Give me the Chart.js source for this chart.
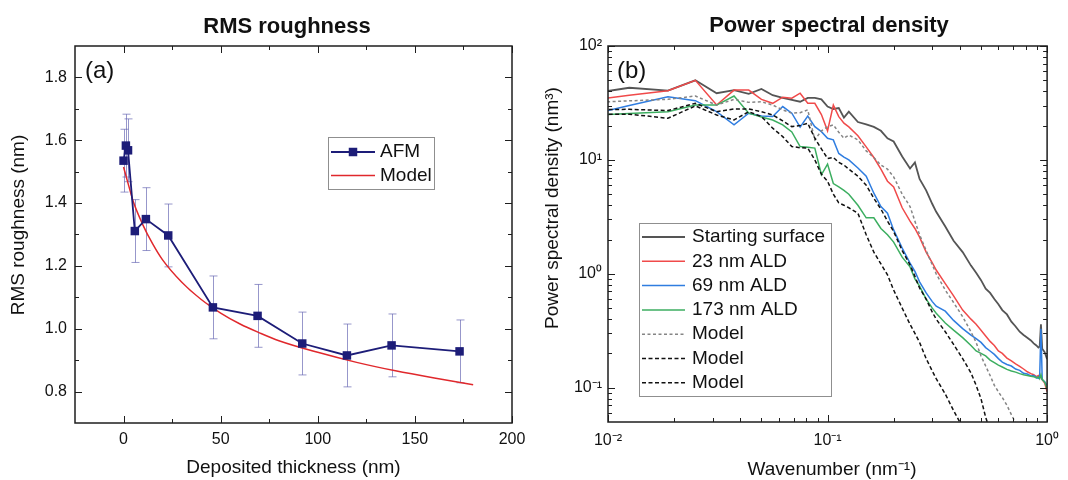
<!DOCTYPE html>
<html>
<head>
<meta charset="utf-8">
<script src="https://cdn.jsdelivr.net/npm/chart.js@4.4.1/dist/chart.umd.min.js"></script>
<style>
  html, body { margin: 0; padding: 0; background: #fff; }
  #wrap { width: 1068px; height: 480px; display: flex; }
  .panel { position: relative; width: 534px; height: 480px; }
</style>
</head>
<body>
<div id="wrap">
  <div class="panel"><canvas id="rmsChart"></canvas></div>
  <div class="panel"><canvas id="psdChart"></canvas></div>
</div>
<script>
// ---- (a) RMS roughness ----
const afmThickness = [0, 1.2, 2.3, 5.8, 11.5, 23, 46, 69, 92, 115, 138, 173];
const afmRms = [1.535, 1.583, 1.568, 1.311, 1.349, 1.297, 1.068, 1.041, 0.953, 0.915, 0.947, 0.928];
const afmErr = [0.1, 0.1, 0.1, 0.1, 0.1, 0.1, 0.1, 0.1, 0.1, 0.1, 0.1, 0.1];
const modelThickness = [0, 2, 5, 10, 15, 20, 30, 40, 50, 60, 70, 80, 100, 120, 140, 160, 180];
const modelRms = [1.515, 1.47, 1.405, 1.33, 1.27, 1.22, 1.148, 1.093, 1.05, 1.015, 0.987, 0.962, 0.925, 0.893, 0.866, 0.843, 0.822];

const rmsXTicks = [0, 50, 100, 150, 200];
const rmsXMinor = [25, 75, 125, 175];
const rmsYTicks = [0.8, 1.0, 1.2, 1.4, 1.6, 1.8];
const rmsYMinor = [0.9, 1.1, 1.3, 1.5, 1.7];

// ---- (b) Power spectral density ----
const wavenumber = [0.00625, 0.0125, 0.01875, 0.025, 0.03125, 0.0375, 0.04375, 0.05, 0.05625, 0.0625,
  0.06875, 0.075, 0.08125, 0.0875, 0.09375, 0.1, 0.10625, 0.1125, 0.11875, 0.125,
  0.1375, 0.15, 0.1625, 0.175, 0.1875, 0.2, 0.21875, 0.2375, 0.25, 0.2625,
  0.28125, 0.3, 0.3125, 0.34375, 0.375, 0.4125, 0.45, 0.475, 0.5, 0.525,
  0.55, 0.575, 0.6, 0.625, 0.65625, 0.6875, 0.71875, 0.75, 0.78125, 0.8125,
  0.84375, 0.86875, 0.89375, 0.9125, 0.925, 0.9375, 0.95, 0.975, 1.0];

const psdStart = [35, 43, 40.6, 50, 38.5, 41, 38, 42, 37, 35,
  33.6, 32.4, 35, 35, 34, 29.4, 28, 28.5, 23.5, 26.5,
  21.5, 20.5, 19.5, 18, 15.5, 14.5, 10.7, 8.4, 9.5, 6.8,
  5.4, 4.1, 3.5, 2.6, 1.95, 1.55, 1.18, 1.02, 0.88, 0.74,
  0.68, 0.6, 0.54, 0.48, 0.44, 0.38, 0.345, 0.31, 0.29, 0.275,
  0.26, 0.245, 0.235, 0.225, 0.23, 0.36, 0.22, 0.205, 0.178];
const psd23 = [31, 37, 40.5, 50, 30.3, 41, 41, 34, 31.4, 35.5,
  34.8, 38.5, 31.4, 31.4, 25, 18, 30.3, 24, 21, 19.5,
  16.3, 13, 10.5, 8.3, 6.5, 5.8, 3.8, 2.9, 2.5, 2.1,
  1.55, 1.25, 1.08, 0.82, 0.64, 0.48, 0.4, 0.36, 0.32, 0.285,
  0.255, 0.235, 0.21, 0.2, 0.182, 0.172, 0.162, 0.154, 0.146, 0.138,
  0.133, 0.13, 0.125, 0.128, 0.122, 0.125, 0.118, 0.11, 0.092];
const psd69 = [22, 30, 35.9, 33.1, 26.5, 20.3, 25.7, 24.3, 24, 29.4,
  25.7, 19.4, 24.3, 19.6, 17.7, 15.5, 15, 11.4, 10.6, 10,
  8.5, 7.2, 5.1, 3.9, 3.4, 2.43, 1.68, 1.24, 1.05, 0.85,
  0.68, 0.57, 0.52, 0.47, 0.39, 0.33, 0.29, 0.27, 0.25, 0.225,
  0.21, 0.196, 0.18, 0.168, 0.16, 0.155, 0.146, 0.142, 0.134, 0.132,
  0.127, 0.128, 0.123, 0.121, 0.124, 0.33, 0.118, 0.113, 0.105];
const psd173 = [24.2, 25.5, 26.5, 30.3, 30.3, 36.4, 25.7, 23.8, 22.4, 20.3,
  17.6, 13.1, 12.9, 12.7, 7.4, 9.2, 6.2, 5.8, 5.4, 5.0,
  4.0, 3.1, 3.1, 2.5, 2.2, 1.9, 1.4, 1.15, 0.9, 0.78,
  0.6, 0.5, 0.45, 0.37, 0.32, 0.275, 0.235, 0.21, 0.2, 0.19,
  0.175, 0.166, 0.158, 0.152, 0.145, 0.14, 0.137, 0.133, 0.13, 0.128,
  0.126, 0.125, 0.122, 0.125, 0.12, 0.13, 0.118, 0.112, 0.098];
const model23 = [31, 33, 34, 36.4, 30.3, 34, 32, 32.4, 30.3, 27.5,
  25.7, 26, 27.5, 15, 18, 19.5, 20.3, 17.5, 15.5, 16.5,
  15, 12, 10.5, 9.0, 8.3, 7.1, 5.0, 3.9, 2.9, 2.2,
  1.6, 1.2, 1.0, 0.72, 0.56, 0.42, 0.31, 0.25, 0.19, 0.155,
  0.128, 0.105, 0.092, 0.082, 0.07, 0.058, 0.049, 0.042, null, null,
  null, null, null, null, null, null, null, null, null];
const model69 = [27.5, 27.8, 27.1, 31.4, 26.5, 28, 28, 26.5, 24.8, 22,
  19.6, 20, 21, 15.5, 12.5, 10.3, 10.5, 9.5, 9, 8.3,
  7.2, 6.0, 4.6, 3.7, 2.9, 2.35, 1.6, 1.2, 0.95, 0.75,
  0.6, 0.46, 0.4, 0.31, 0.24, 0.18, 0.135, 0.105, 0.08, 0.055,
  0.042, null, null, null, null, null, null, null, null, null,
  null, null, null, null, null, null, null, null, null];
const model173 = [25, 25.2, 23.2, 29.8, 24.8, 22.4, 26.5, 24, 19, 16,
  13.1, 12.8, 12.7, 10, 7.5, 6.5, 5, 4.2, 4.0, 3.8,
  3.4, 2.2, 1.55, 1.22, 0.98, 0.72, 0.5, 0.36, 0.3, 0.25,
  0.18, 0.14, 0.12, 0.088, 0.063, 0.045, null, null, null, null,
  null, null, null, null, null, null, null, null, null, null,
  null, null, null, null, null, null, null, null, null];

const psdXTicks = [0.01, 0.1, 1];
const psdXTickLabels = ['10⁻²', '10⁻¹', '10⁰'];
const psdXMinor = [0.02, 0.03, 0.04, 0.05, 0.06, 0.07, 0.08, 0.09, 0.2, 0.3, 0.4, 0.5, 0.6, 0.7, 0.8, 0.9];
const psdYTicks = [0.1, 1, 10, 100];
const psdYTickLabels = ['10⁻¹', '10⁰', '10¹', '10²'];
const psdYMinor = [0.06, 0.07, 0.08, 0.09, 0.2, 0.3, 0.4, 0.5, 0.6, 0.7, 0.8, 0.9,
  2, 3, 4, 5, 6, 7, 8, 9, 20, 30, 40, 50, 60, 70, 80, 90];

const FONT = "'Liberation Sans', Arial, Helvetica, sans-serif";
Chart.defaults.font.family = FONT;
Chart.defaults.color = '#111';

const pairs = (xs, ys) => xs.map((x, i) => ({ x: x, y: ys[i] }));

// frame, inward ticks, error bars, texts and boxed legend
const axesFrame = {
  id: 'axesFrame',
  beforeDatasetsDraw(chart, args, o) {
    if (!o.errors) return;
    const { ctx } = chart;
    const xs = chart.scales.x, ys = chart.scales.y;
    const e = o.errors;
    ctx.save();
    ctx.strokeStyle = e.color;
    ctx.lineWidth = 1;
    e.x.forEach((xv, i) => {
      const px = Math.round(xs.getPixelForValue(xv)) + 0.5;
      const top = ys.getPixelForValue(e.y[i] + e.err[i]);
      const bot = ys.getPixelForValue(e.y[i] - e.err[i]);
      ctx.beginPath();
      ctx.moveTo(px, top); ctx.lineTo(px, bot);
      ctx.moveTo(px - 4, top); ctx.lineTo(px + 4, top);
      ctx.moveTo(px - 4, bot); ctx.lineTo(px + 4, bot);
      ctx.stroke();
    });
    ctx.restore();
  },
  afterDraw(chart, args, o) {
    const { ctx, chartArea: a } = chart;
    const xs = chart.scales.x, ys = chart.scales.y;
    ctx.save();
    ctx.strokeStyle = '#1e1e1e';
    ctx.lineWidth = 1;
    const xMarks = (vals, len) => vals.forEach(v => {
      const px = Math.round(xs.getPixelForValue(v)) + 0.5;
      ctx.beginPath();
      ctx.moveTo(px, a.bottom); ctx.lineTo(px, a.bottom - len);
      ctx.moveTo(px, a.top); ctx.lineTo(px, a.top + len);
      ctx.stroke();
    });
    const yMarks = (vals, len) => vals.forEach(v => {
      const py = Math.round(ys.getPixelForValue(v)) + 0.5;
      ctx.beginPath();
      ctx.moveTo(a.left, py); ctx.lineTo(a.left + len, py);
      ctx.moveTo(a.right, py); ctx.lineTo(a.right - len, py);
      ctx.stroke();
    });
    xMarks(o.xMajor, 7); xMarks(o.xMinor, 4);
    yMarks(o.yMajor, 7); yMarks(o.yMinor, 4);
    ctx.lineWidth = 1.5;
    ctx.strokeRect(a.left, a.top, a.right - a.left, a.bottom - a.top);

    // legend box
    const lg = o.legend;
    ctx.fillStyle = '#fff';
    ctx.fillRect(lg.x, lg.y, lg.w, lg.h);
    ctx.strokeStyle = '#8f8f8f';
    ctx.lineWidth = 1;
    ctx.strokeRect(lg.x + 0.5, lg.y + 0.5, lg.w, lg.h);
    ctx.font = '19px ' + FONT;
    ctx.textBaseline = 'middle';
    ctx.textAlign = 'left';
    chart.data.datasets.forEach((ds, i) => {
      const y = lg.y0 + i * lg.dy;
      ctx.strokeStyle = ds.borderColor;
      ctx.lineWidth = ds.borderWidth;
      ctx.setLineDash(ds.borderDash || []);
      ctx.beginPath();
      ctx.moveTo(lg.x0, y); ctx.lineTo(lg.x1, y);
      ctx.stroke();
      ctx.setLineDash([]);
      if (ds.pointRadius > 0) {
        const s = ds.pointRadius * Math.SQRT2;
        ctx.fillStyle = ds.backgroundColor;
        ctx.fillRect((lg.x0 + lg.x1) / 2 - s / 2, y - s / 2, s, s);
      }
      ctx.fillStyle = '#111';
      ctx.fillText(ds.label, lg.tx, y);
    });

    // titles and labels
    ctx.fillStyle = '#111';
    o.texts.forEach(t => {
      ctx.save();
      ctx.font = t.font + ' ' + FONT;
      ctx.textAlign = t.align || 'center';
      ctx.textBaseline = t.baseline || 'alphabetic';
      ctx.translate(t.x, t.y);
      if (t.rotate) ctx.rotate(-Math.PI / 2);
      ctx.fillText(t.text, 0, 0);
      ctx.restore();
    });
    ctx.restore();
  }
};

const tickFont = { size: 16, family: FONT };
const noGrid = { display: false, drawTicks: false };

new Chart(document.getElementById('rmsChart'), {
  type: 'line',
  data: {
    datasets: [
      {
        label: 'AFM',
        data: pairs(afmThickness, afmRms),
        borderColor: '#1d1d78',
        backgroundColor: '#1d1d78',
        borderWidth: 1.8,
        pointStyle: 'rect',
        pointRadius: 6,
        pointHoverRadius: 6,
        pointBorderWidth: 0,
        order: 0
      },
      {
        label: 'Model',
        data: pairs(modelThickness, modelRms),
        borderColor: '#e0282c',
        backgroundColor: '#e0282c',
        borderWidth: 1.5,
        pointRadius: 0,
        cubicInterpolationMode: 'monotone',
        order: 1
      }
    ]
  },
  options: {
    responsive: true,
    maintainAspectRatio: false,
    animation: false,
    devicePixelRatio: 1,
    layout: { padding: { left: 0, right: 22, top: 46, bottom: 0 } },
    plugins: {
      legend: { display: false },
      tooltip: { enabled: false },
      axesFrame: {
        xMajor: rmsXTicks, xMinor: rmsXMinor, yMajor: rmsYTicks, yMinor: rmsYMinor,
        errors: { x: afmThickness, y: afmRms, err: afmErr, color: 'rgba(95, 95, 175, 0.65)' },
        legend: { x: 328, y: 137, w: 106, h: 52, x0: 331, x1: 375, tx: 380, y0: 152, dy: 23.5 },
        texts: [
          { text: 'RMS roughness', x: 287, y: 33, font: 'bold 22px' },
          { text: '(a)', x: 85, y: 71, font: '24px', align: 'left', baseline: 'middle' },
          { text: 'Deposited thickness (nm)', x: 293.5, y: 473, font: '19px' },
          { text: 'RMS roughness (nm)', x: 24, y: 225, font: '19px', rotate: true }
        ]
      }
    },
    scales: {
      x: {
        type: 'linear', min: -25, max: 200,
        grid: noGrid, border: { display: false },
        afterBuildTicks: s => { s.ticks = rmsXTicks.map(v => ({ value: v })); },
        afterFit: s => { s.height = 57; },
        ticks: { padding: 7, font: tickFont, color: '#111', maxRotation: 0, autoSkip: false, callback: v => String(v) }
      },
      y: {
        type: 'linear', min: 0.7, max: 1.9,
        grid: noGrid, border: { display: false },
        afterBuildTicks: s => { s.ticks = rmsYTicks.map(v => ({ value: v })); },
        afterFit: s => { s.width = 75; },
        ticks: { padding: 8, font: tickFont, color: '#111', autoSkip: false, callback: v => v.toFixed(1) }
      }
    }
  },
  plugins: [axesFrame]
});

const psdLine = (label, values, color, width, dash, order) => ({
  label: label,
  data: pairs(wavenumber, values),
  borderColor: color,
  backgroundColor: color,
  borderWidth: width,
  borderDash: dash,
  pointRadius: 0,
  spanGaps: false,
  order: order
});

new Chart(document.getElementById('psdChart'), {
  type: 'line',
  data: {
    datasets: [
      psdLine('Starting surface', psdStart, '#555555', 1.8, [], 5),
      psdLine('23 nm ALD', psd23, '#f04a4a', 1.5, [], 4),
      psdLine('69 nm ALD', psd69, '#2f7de0', 1.5, [], 3),
      psdLine('173 nm ALD', psd173, '#3cae60', 1.5, [], 2),
      psdLine('Model', model23, '#858585', 1.5, [3, 2.5], 1),
      psdLine('Model', model69, '#111111', 1.5, [4, 2.5], 0),
      psdLine('Model', model173, '#111111', 1.5, [4, 2.5], 0)
    ]
  },
  options: {
    responsive: true,
    maintainAspectRatio: false,
    animation: false,
    devicePixelRatio: 1,
    layout: { padding: { left: 0, right: 15, top: 46, bottom: 0 } },
    plugins: {
      legend: { display: false },
      tooltip: { enabled: false },
      axesFrame: {
        xMajor: psdXTicks, xMinor: psdXMinor, yMajor: psdYTicks, yMinor: psdYMinor,
        legend: { x: 105, y: 223, w: 192, h: 173, x0: 108, x1: 151, tx: 158, y0: 237, dy: 24.3 },
        texts: [
          { text: 'Power spectral density', x: 295, y: 32, font: 'bold 22px' },
          { text: '(b)', x: 83, y: 71, font: '24px', align: 'left', baseline: 'middle' },
          { text: 'Wavenumber (nm⁻¹)', x: 298, y: 475, font: '19px' },
          { text: 'Power spectral density (nm³)', x: 24, y: 208, font: '19px', rotate: true }
        ]
      }
    },
    scales: {
      x: {
        type: 'logarithmic', min: 0.01, max: 1,
        grid: noGrid, border: { display: false },
        afterBuildTicks: s => { s.ticks = psdXTicks.map(v => ({ value: v })); },
        afterFit: s => { s.height = 58; },
        ticks: { padding: 9, font: tickFont, color: '#111', maxRotation: 0, autoSkip: false, callback: (v, i) => psdXTickLabels[i] }
      },
      y: {
        type: 'logarithmic', min: 0.05, max: 100,
        grid: noGrid, border: { display: false },
        afterBuildTicks: s => { s.ticks = psdYTicks.map(v => ({ value: v })); },
        afterFit: s => { s.width = 74; },
        ticks: { padding: 6, font: tickFont, color: '#111', autoSkip: false, callback: (v, i) => psdYTickLabels[i] }
      }
    }
  },
  plugins: [axesFrame]
});
</script>
</body>
</html>
